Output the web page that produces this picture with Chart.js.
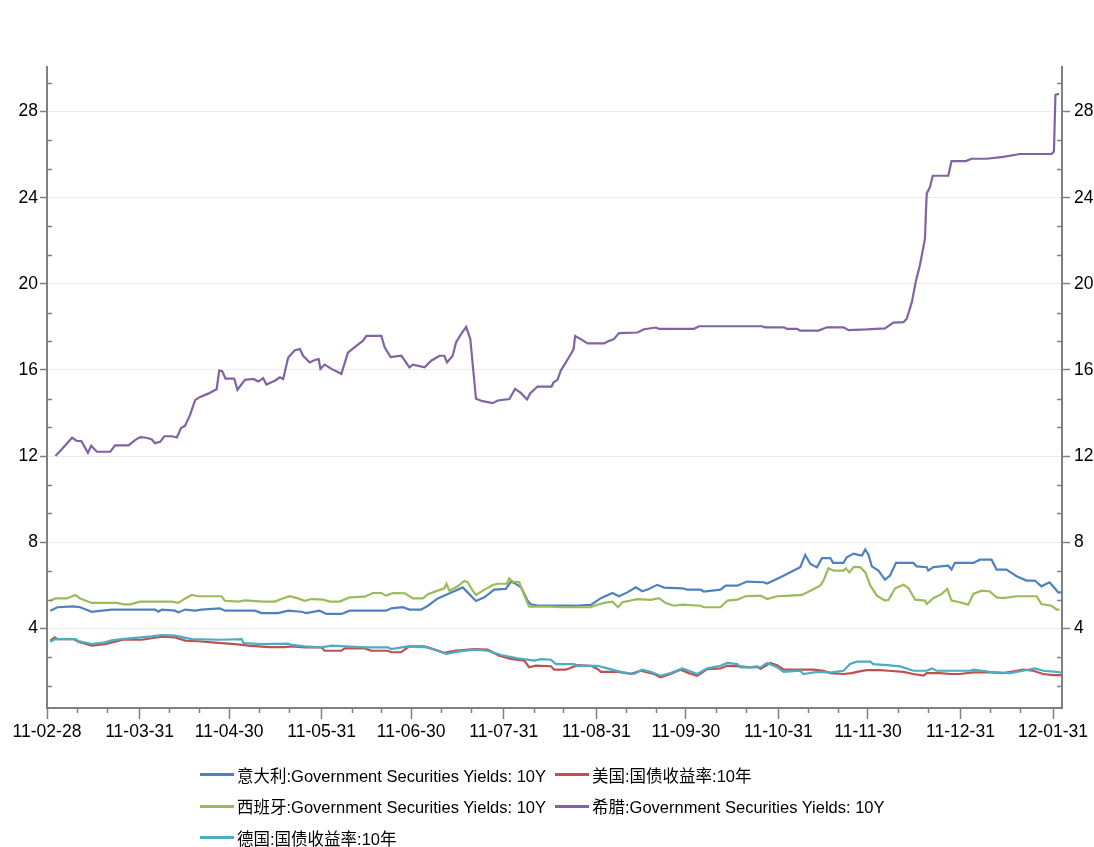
<!DOCTYPE html>
<html>
<head>
<meta charset="utf-8">
<script src="https://cdn.jsdelivr.net/npm/chart.js@4/dist/chart.umd.min.js"></script>
<style>
  html,body{margin:0;padding:0;background:#fff;}
  #wrap{position:relative;width:1094px;height:847px;overflow:hidden;}
  #c{position:absolute;left:0;top:0;}
  #legend{position:absolute;left:200px;top:759px;display:grid;grid-template-columns:355px auto;
    font-family:"Liberation Sans","Noto Sans CJK SC",sans-serif;
    font-size:16.5px;color:#000;}
  #legend .item{display:flex;align-items:center;height:31.5px;white-space:nowrap;}
  #legend .sw{display:inline-block;flex:0 0 34px;width:34px;height:3px;margin-right:3px;}
</style>
</head>
<body>
<div id="wrap">
  <canvas id="c" width="1094" height="847"></canvas>
  <div id="legend"></div>
</div>
<script>
// ---- axis tick labels ----
const tickLabels = ['11-02-28','11-03-31','11-04-30','11-05-31','11-06-30','11-07-31','11-08-31','11-09-30','11-10-31','11-11-30','11-12-31','12-01-31'];
const yTickValues = [4, 8, 12, 16, 20, 24, 28];

// ---- series names ----
const seriesNames = [
  '意大利:Government Securities Yields: 10Y',
  '美国:国债收益率:10年',
  '西班牙:Government Securities Yields: 10Y',
  '希腊:Government Securities Yields: 10Y',
  '德国:国债收益率:10年'
];

// ---- data: days since 2011-02-28 and yields (%) ----
const italyDays = [1.1,3.5,8.9,11.1,15.0,18.4,21.7,36.2,37.3,38.4,42.9,44.0,46.3,49.6,51.8,57.9,59.6,69.6,71.9,77.4,80.8,85.2,86.9,91.3,93.6,98.6,101.4,113.6,115.3,119.2,121.4,125.3,127.6,130.9,134.3,139.3,140.9,143.7,146.5,149.8,153.7,155.4,156.5,158.8,161.0,162.1,164.9,176.6,182.2,185.5,189.4,191.6,194.4,197.2,199.4,201.6,204.4,206.7,212.8,214.5,218.9,220.0,225.6,227.3,231.2,234.5,240.1,241.2,245.7,249.0,252.3,254.0,255.7,257.9,259.6,262.4,263.3,266.8,267.9,270.2,271.8,273.0,274.1,275.2,276.3,278.5,280.7,282.4,284.4,290.2,291.3,294.7,295.2,296.9,301.9,303.0,304.1,310.3,312.5,316.4,318.1,321.4,324.8,328.1,330.9,333.1,335.8,337.6,338.7,339.8];
const italyYields = [4.82,4.98,5.02,4.98,4.77,4.82,4.87,4.87,4.77,4.87,4.82,4.74,4.87,4.82,4.87,4.93,4.82,4.82,4.71,4.71,4.82,4.77,4.71,4.82,4.67,4.67,4.82,4.82,4.93,4.98,4.87,4.87,5.05,5.39,5.59,5.90,5.67,5.27,5.44,5.80,5.83,6.17,6.11,5.90,5.28,5.11,5.05,5.05,5.09,5.40,5.64,5.49,5.67,5.91,5.72,5.83,6.02,5.89,5.86,5.80,5.80,5.71,5.80,5.98,5.98,6.17,6.14,6.08,6.37,6.60,6.84,7.41,6.99,6.84,7.26,7.26,7.04,7.04,7.30,7.47,7.41,7.38,7.66,7.41,6.88,6.68,6.26,6.45,7.04,7.04,6.88,6.84,6.68,6.84,6.91,6.73,7.04,7.04,7.19,7.19,6.73,6.73,6.42,6.22,6.22,5.95,6.14,5.86,5.67,5.67];

const usDays = [1.1,2.6,3.5,8.9,10.5,15.0,19.5,22.8,25.6,31.7,35.1,38.4,42.9,46.3,50.7,55.2,63.0,67.5,74.2,79.7,81.9,86.3,91.9,93.0,98.6,99.7,106.4,108.6,114.2,115.3,118.6,121.4,126.4,129.8,133.1,136.5,143.1,147.6,151.5,155.4,159.9,161.5,163.8,165.4,168.8,169.9,173.8,177.7,182.2,184.4,185.5,191.1,195.5,198.8,203.3,205.5,208.9,212.2,215.0,217.8,221.2,225.6,227.9,232.3,235.6,237.9,239.0,242.3,244.6,246.8,252.3,256.8,260.1,262.4,266.8,269.6,271.3,274.6,279.1,281.9,286.9,290.2,293.6,294.7,299.1,302.5,305.8,310.3,315.8,320.3,324.8,327.0,330.3,333.7,337.0,339.8];
const usYields = [3.43,3.58,3.50,3.50,3.38,3.20,3.27,3.38,3.47,3.47,3.54,3.61,3.58,3.43,3.40,3.35,3.27,3.20,3.13,3.13,3.16,3.12,3.12,2.96,2.96,3.07,3.07,2.96,2.96,2.89,2.89,3.16,3.16,3.01,2.86,2.96,3.04,3.01,2.73,2.58,2.50,2.19,2.27,2.26,2.24,2.08,2.08,2.29,2.26,2.11,1.98,1.98,1.88,2.03,1.88,1.72,1.88,2.08,1.92,1.80,2.11,2.14,2.26,2.23,2.19,2.23,2.11,2.39,2.29,2.08,2.08,2.08,2.03,1.92,1.88,1.92,1.98,2.06,2.06,2.03,1.98,1.88,1.80,1.92,1.92,1.88,1.88,1.95,1.95,1.92,2.03,2.08,2.03,1.88,1.83,1.83];

const spainDays = [1.1,2.8,6.7,9.5,11.1,15.0,23.4,25.6,27.9,31.2,41.8,44.0,46.3,48.5,50.7,58.5,59.6,64.1,66.3,72.4,76.3,78.5,81.3,84.1,86.3,88.6,92.5,94.7,98.0,101.4,106.4,109.2,112.0,113.6,115.9,119.8,122.6,125.9,127.6,130.9,133.1,133.8,134.8,137.6,139.8,140.9,142.6,143.7,146.0,149.3,151.0,154.1,154.8,156.0,158.2,159.9,161.5,168.8,172.1,182.2,183.3,186.6,189.4,191.3,192.7,197.8,202.2,205.0,207.2,210.0,212.8,218.9,220.0,225.6,227.9,231.2,234.0,239.0,241.2,244.6,249.0,252.9,255.7,259.0,260.1,261.8,263.5,266.8,267.6,268.8,270.2,272.4,274.1,275.8,278.0,280.7,281.9,284.1,286.9,288.6,290.8,294.1,294.7,296.9,299.7,301.6,303.0,305.8,308.6,310.3,313.1,315.8,318.1,320.3,324.8,331.5,333.1,336.5,338.2,339.2];
const spainYields = [5.28,5.39,5.39,5.55,5.39,5.18,5.18,5.11,5.11,5.24,5.24,5.18,5.39,5.55,5.49,5.49,5.28,5.24,5.30,5.24,5.24,5.36,5.49,5.39,5.28,5.36,5.33,5.24,5.24,5.44,5.47,5.64,5.64,5.52,5.64,5.63,5.39,5.39,5.59,5.75,5.86,6.07,5.75,5.95,6.20,6.14,5.75,5.55,5.75,6.01,6.07,6.07,6.32,6.17,6.14,5.52,5.01,5.01,4.98,4.98,5.05,5.18,5.24,4.98,5.21,5.36,5.32,5.40,5.18,5.05,5.10,5.05,4.98,4.98,5.29,5.33,5.49,5.52,5.36,5.49,5.52,5.55,5.75,5.98,6.22,6.79,6.68,6.68,6.79,6.60,6.84,6.84,6.60,5.98,5.52,5.29,5.33,5.86,6.02,5.86,5.33,5.29,5.13,5.40,5.60,5.83,5.29,5.21,5.10,5.60,5.75,5.71,5.44,5.40,5.49,5.49,5.13,5.05,4.87,4.87];

const greeceDays = [2.8,4.5,8.4,10.0,11.5,13.7,14.8,16.7,21.2,22.8,27.3,29.5,31.2,33.4,35.1,36.2,37.9,39.3,41.8,43.5,44.9,46.2,47.9,49.6,51.3,54.0,56.8,57.7,58.7,59.8,62.7,63.8,66.3,69.1,70.8,72.4,73.5,76.3,78.0,79.1,80.8,83.0,84.7,85.8,88.0,89.7,91.0,91.6,93.0,95.3,98.6,100.8,103.6,105.8,107.0,112.0,113.1,115.1,118.7,121.4,122.6,126.5,128.7,131.5,133.1,134.0,135.9,137.0,138.7,140.4,141.8,143.7,145.9,149.3,151.0,154.9,156.8,158.8,160.8,161.9,164.3,169.0,169.7,171.0,172.1,173.8,175.5,176.4,176.9,178.8,181.1,186.6,188.3,189.9,191.6,197.8,200.0,203.9,205.0,216.7,218.4,239.5,240.6,246.8,247.9,251.2,252.3,258.4,261.3,266.8,268.5,274.6,280.7,283.5,286.9,288.0,289.7,291.1,292.4,294.1,294.4,294.7,295.8,296.7,301.9,303.0,307.8,309.7,314.7,320.3,325.9,336.5,337.3,337.8,339.0];
const greeceYields = [12.0,12.25,12.85,12.7,12.7,12.15,12.48,12.2,12.2,12.5,12.5,12.74,12.88,12.85,12.77,12.6,12.66,12.92,12.92,12.86,13.3,13.4,13.9,14.6,14.75,14.9,15.1,15.97,15.94,15.6,15.6,15.08,15.54,15.58,15.46,15.62,15.32,15.5,15.66,15.58,16.58,16.92,16.97,16.66,16.35,16.46,16.5,16.05,16.25,16.05,15.82,16.8,17.12,17.35,17.58,17.58,17.05,16.6,16.66,16.12,16.25,16.12,16.43,16.66,16.66,16.35,16.66,17.28,17.66,18.0,17.43,14.66,14.55,14.46,14.58,14.65,15.12,14.92,14.63,14.92,15.23,15.23,15.43,15.54,15.97,16.35,16.74,16.97,17.58,17.43,17.23,17.23,17.35,17.43,17.71,17.74,17.89,17.97,17.91,17.91,18.03,18.03,17.98,17.98,17.91,17.91,17.83,17.83,17.98,17.98,17.85,17.88,17.93,18.2,18.22,18.38,19.15,20.16,20.86,22.1,23.26,24.2,24.5,25.02,25.02,25.7,25.7,25.81,25.81,25.9,26.03,26.03,26.14,28.78,28.82];

const germanyDays = [1.1,2.8,9.5,10.5,15.0,19.5,21.7,25.0,30.5,35.1,38.4,42.9,48.5,58.5,65.2,65.8,71.9,80.8,81.9,86.3,91.9,95.3,106.4,114.2,115.3,120.9,127.6,130.9,133.7,137.6,143.1,147.6,152.1,157.6,163.2,165.4,168.8,170.5,176.6,177.7,184.4,187.7,192.2,196.7,199.4,202.2,205.5,208.9,212.8,215.0,217.8,221.2,225.6,227.9,231.2,232.3,239.0,241.2,244.6,246.8,252.3,253.4,257.9,262.4,266.8,269.0,271.3,275.8,276.8,281.3,285.8,290.2,294.7,296.4,298.0,309.2,310.3,315.8,322.5,327.0,330.9,333.7,338.2,339.8];
const germanyYields = [3.38,3.50,3.50,3.41,3.27,3.35,3.44,3.50,3.57,3.63,3.69,3.66,3.50,3.47,3.50,3.32,3.27,3.29,3.23,3.16,3.12,3.20,3.12,3.12,3.04,3.16,3.12,2.96,2.81,2.92,3.01,2.96,2.76,2.61,2.50,2.57,2.54,2.34,2.34,2.26,2.26,2.14,1.98,1.88,2.08,1.98,1.80,1.92,2.14,2.03,1.88,2.14,2.26,2.39,2.34,2.19,2.19,2.39,2.19,1.98,2.03,1.88,1.98,1.95,2.03,2.34,2.45,2.45,2.34,2.29,2.23,2.03,2.03,2.14,2.03,2.03,2.08,1.98,1.92,2.03,2.14,2.03,1.98,1.95];

const seriesColors = ['#4F81BD', '#C0504D', '#9BBB59', '#8064A2', '#4BACC6'];
const drawOrder = [4, 3, 2, 1, 0]; // lower = drawn on top

// ---- helpers ----
const BASE = Date.UTC(2011, 1, 28);
const DAY = 86400000;
function dayOfLabel(lbl) {
  const [yy, mm, dd] = lbl.split('-').map(Number);
  return Math.round((Date.UTC(2000 + yy, mm - 1, dd) - BASE) / DAY);
}
const majorDays = tickLabels.map(dayOfLabel);
const labelByDay = new Map(majorDays.map((d, i) => [d, tickLabels[i]]));
const minorDays = [];
for (let m = 2; m <= 12; m++) {
  [10, 20].forEach(dd => minorDays.push(Math.round((Date.UTC(2011, m, dd) - BASE) / DAY)));
}
const Y_MIN = 0.3, Y_MAX = 30.07, X_MIN = 0, X_MAX = 340;
const minorY = [];
for (let k = 1; k * 4 / 3 < Y_MAX; k++) { if (k % 3 !== 0) minorY.push(k * 4 / 3); }

function pts(days, vals) { return days.map((d, i) => ({ x: d, y: vals[i] })); }
const allDays = [italyDays, usDays, spainDays, greeceDays, germanyDays];
const allVals = [italyYields, usYields, spainYields, greeceYields, germanyYields];

const FONT = "'Liberation Sans', Arial, sans-serif";

const minorTicksPlugin = {
  id: 'minorTicks',
  afterDraw(chart) {
    const { ctx, chartArea: a, scales } = chart;
    const x = scales.x, y = scales.y;
    ctx.save();
    ctx.strokeStyle = '#808080';
    ctx.lineWidth = 1.5;
    ctx.beginPath();
    minorDays.forEach(d => {
      if (d < X_MIN || d > X_MAX) return;
      const p = Math.round(x.getPixelForValue(d)) + 0.5;
      ctx.moveTo(p, a.bottom); ctx.lineTo(p, a.bottom + 5);
    });
    minorY.forEach(v => {
      const p = Math.round(y.getPixelForValue(v)) + 0.5;
      ctx.moveTo(a.left, p); ctx.lineTo(a.left + 5, p);
      ctx.moveTo(a.right, p); ctx.lineTo(a.right - 5, p);
    });
    ctx.stroke();
    ctx.restore();
  }
};

const chart = new Chart(document.getElementById('c'), {
  type: 'line',
  data: {
    datasets: seriesNames.map((name, i) => ({
      label: name,
      data: pts(allDays[i], allVals[i]),
      borderColor: seriesColors[i],
      backgroundColor: seriesColors[i],
      borderWidth: 2.2,
      pointRadius: 0,
      tension: 0,
      fill: false,
      order: drawOrder[i]
    }))
  },
  options: {
    responsive: false,
    animation: false,
    layout: { padding: { top: 67, bottom: 79, left: 0, right: 0 } },
    plugins: { legend: { display: false }, tooltip: { enabled: false } },
    scales: {
      x: {
        type: 'linear', min: X_MIN, max: X_MAX, position: 'bottom',
        afterBuildTicks: s => { s.ticks = majorDays.map(v => ({ value: v })); },
        afterFit: s => { s.height = 60; },
        ticks: { autoSkip: false, maxRotation: 0, minRotation: 0, padding: 3, color: '#000',
                 font: { family: FONT, size: 17.5 }, callback: v => labelByDay.get(v) ?? '' },
        grid: { drawOnChartArea: false, drawTicks: true, tickLength: 11, tickColor: '#808080', tickWidth: 1.5 },
        border: { display: true, color: '#808080', width: 2 }
      },
      y: {
        position: 'left', min: Y_MIN, max: Y_MAX,
        afterBuildTicks: s => { s.ticks = yTickValues.map(v => ({ value: v })); },
        afterFit: s => { s.width = 47; },
        ticks: { padding: 2, color: '#000', font: { family: FONT, size: 17.5 }, callback: v => String(v) },
        grid: { color: '#ebebeb', lineWidth: 1, drawTicks: true, tickLength: 7, tickColor: '#808080', tickWidth: 1.5 },
        border: { display: true, color: '#808080', width: 2 }
      },
      y2: {
        position: 'right', min: Y_MIN, max: Y_MAX,
        afterBuildTicks: s => { s.ticks = yTickValues.map(v => ({ value: v })); },
        afterFit: s => { s.width = 32; },
        ticks: { padding: 4, color: '#000', font: { family: FONT, size: 17.5 }, callback: v => String(v) },
        grid: { drawOnChartArea: false, drawTicks: true, tickLength: 8, tickColor: '#808080', tickWidth: 1.5 },
        border: { display: true, color: '#808080', width: 2 }
      }
    }
  },
  plugins: [minorTicksPlugin]
});

// HTML legend built from the datasets
const legendEl = document.getElementById('legend');
chart.data.datasets.forEach(ds => {
  const item = document.createElement('div');
  item.className = 'item';
  const sw = document.createElement('span');
  sw.className = 'sw';
  sw.style.background = ds.borderColor;
  const tx = document.createElement('span');
  tx.textContent = ds.label;
  item.appendChild(sw); item.appendChild(tx);
  legendEl.appendChild(item);
});
</script>
</body>
</html>
